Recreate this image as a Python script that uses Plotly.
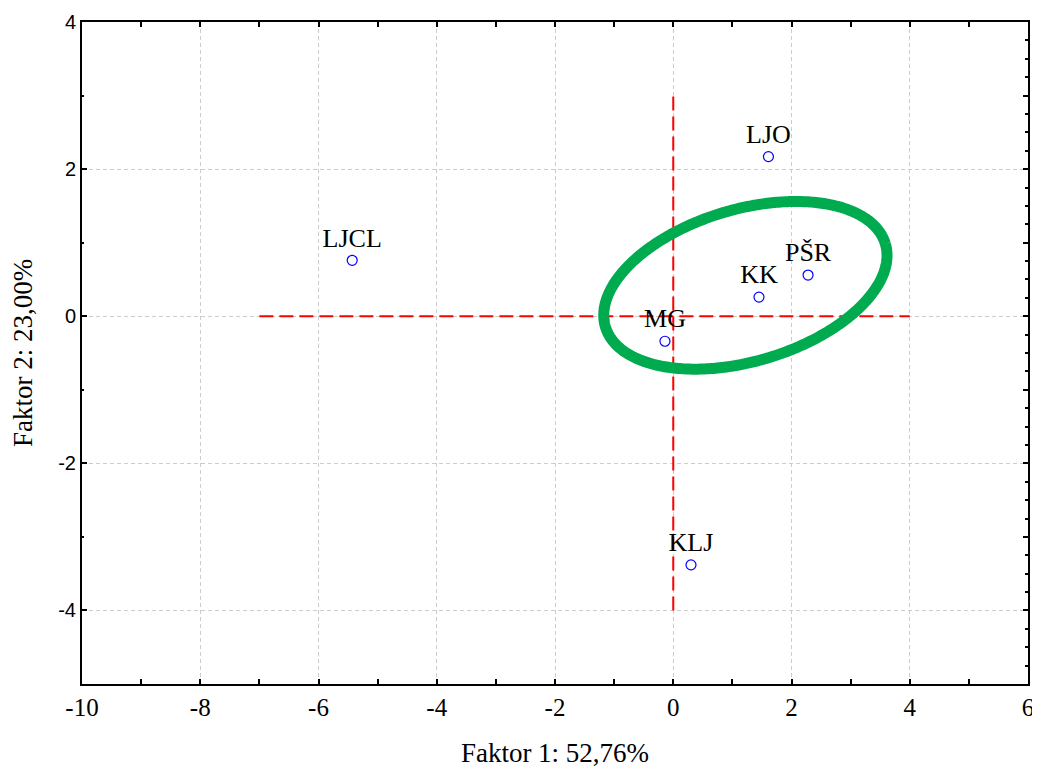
import numpy as np
import plotly.graph_objects as go

# Data
labels = ["LJO", "LJCL", "PŠR", "KK", "MG", "KLJ"]
factor1 = [1.61, -5.43, 2.28, 1.45, -0.14, 0.30]
factor2 = [2.17, 0.76, 0.56, 0.26, -0.34, -3.38]

x_tickvals = [-10, -8, -6, -4, -2, 0, 2, 4, 6]
x_ticktext = ["-10", "-8", "-6", "-4", "-2", "0", "2", "4", "6"]
y_tickvals = [-4, -2, 0, 2, 4]
y_ticktext = ["-4", "-2", "0", "2", "4"]

x_title = "Faktor 1: 52,76%"
y_title = "Faktor 2: 23,00%"

# Reference lines (data units)
hline_x = [-7, 4]
vline_y = [-4, 3]

# Ellipse parameters (centre in data units, semi-axes in pixel units, rotation deg)
ell_center = (1.22, 0.42)
ell_axes_px = (146.0, 76.0)
ell_angle_deg = 16.5

# figure geometry (page adds an 8px body margin)
W, H = 1032, 760
ml, mr, mt, mb = 74, 12, 14, 84
xr = [-10, 6]
yr = [-5, 4]
px_per_x = (W - ml - mr) / (xr[1] - xr[0])
px_per_y = (H - mt - mb) / (yr[1] - yr[0])

t = np.linspace(0, 2 * np.pi, 400)
th = np.deg2rad(ell_angle_deg)
dx = ell_axes_px[0] * np.cos(t) * np.cos(th) - ell_axes_px[1] * np.sin(t) * np.sin(th)
dy = ell_axes_px[0] * np.cos(t) * np.sin(th) + ell_axes_px[1] * np.sin(t) * np.cos(th)
ex = ell_center[0] + dx / px_per_x
ey = ell_center[1] + dy / px_per_y

serif = "Liberation Serif, Times New Roman, serif"
sans = "Liberation Sans, Arial, sans-serif"

fig = go.Figure()

fig.add_trace(go.Scatter(
    x=hline_x, y=[0, 0], mode="lines",
    line=dict(color="#ff0000", width=2, dash="14px,6px"),
    showlegend=False, hoverinfo="skip"))
fig.add_trace(go.Scatter(
    x=[0, 0], y=vline_y, mode="lines",
    line=dict(color="#ff0000", width=2, dash="14px,6px"),
    showlegend=False, hoverinfo="skip"))

fig.add_trace(go.Scatter(
    x=ex, y=ey, mode="lines",
    line=dict(color="#00aa4f", width=11, simplify=False),
    showlegend=False, hoverinfo="skip"))

fig.add_trace(go.Scatter(
    x=factor1, y=factor2, mode="markers+text",
    text=labels, textposition="top center",
    textfont=dict(family=serif, size=26, color="black"),
    marker=dict(symbol="circle-open", size=10, color="#0000ff", line=dict(width=1.2, color="#0000ff")),
    showlegend=False))

# invisible trace on yaxis2 to activate it
fig.add_trace(go.Scatter(x=[None], y=[None], yaxis="y2", showlegend=False, hoverinfo="skip"))

fig.update_layout(
    width=W, height=H,
    margin=dict(l=ml, r=mr, t=mt, b=mb, autoexpand=False),
    paper_bgcolor="white", plot_bgcolor="white",
    xaxis=dict(
        range=xr, tickvals=x_tickvals, ticktext=x_ticktext, showgrid=True,
        gridcolor="#cccccc", griddash="4px,3px", gridwidth=1,
        zeroline=False, showline=True, linecolor="black", linewidth=2,
        mirror="allticks", ticks="inside", ticklen=5, tickwidth=2, tickcolor="black",
        minor=dict(dtick=1, tick0=0, ticks="inside", ticklen=3, tickwidth=2, tickcolor="black", showgrid=False),
        tickfont=dict(family=serif, size=25, color="black"),
        ticklabeloverflow="allow",
        automargin=False,
        title=dict(text=x_title, font=dict(family=serif, size=27, color="black"), standoff=30),
    ),
    yaxis=dict(
        range=yr, tickvals=y_tickvals, ticktext=y_ticktext, showgrid=True,
        gridcolor="#cccccc", griddash="4px,3px", gridwidth=1,
        zeroline=False, showline=True, linecolor="black", linewidth=2,
        mirror=True, ticks="inside", ticklen=5, tickwidth=2, tickcolor="black",
        minor=dict(dtick=1, tick0=0, ticks="inside", ticklen=2, tickwidth=2, tickcolor="black", showgrid=False),
        tickfont=dict(family=sans, size=20, color="black"),
        automargin=False,
        title=dict(text=y_title, font=dict(family=serif, size=27, color="black"), standoff=22),
    ),
    yaxis2=dict(
        range=yr, overlaying="y", side="right", dtick=1, tick0=0,
        showgrid=False, zeroline=False, showline=False, showticklabels=False,
        ticks="inside", ticklen=5, tickwidth=2, tickcolor="black",
        minor=dict(dtick=0.25, ticks="inside", ticklen=3, tickwidth=2, tickcolor="black", showgrid=False),
        automargin=False,
    ),
)

fig.write_html("out.html")
